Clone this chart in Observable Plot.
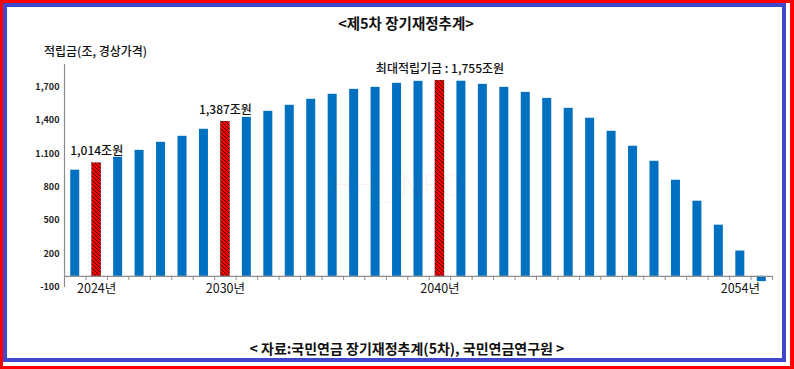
<!DOCTYPE html>
<html><head><meta charset="utf-8">
<script src="https://cdn.jsdelivr.net/npm/d3@7"></script>
<script src="https://cdn.jsdelivr.net/npm/@observablehq/plot@0.6"></script>
<style>
body{margin:0;background:#fff;}
#page{position:relative;width:794px;height:369px;overflow:hidden;font-family:"Noto Sans CJK KR","Noto Sans",sans-serif;}
#red{position:absolute;left:0;top:0;width:794px;height:369px;box-sizing:border-box;border:3px solid #ff0000;border-right-width:4px;}
#blue{position:absolute;left:3px;top:3px;width:783px;height:359px;box-sizing:border-box;border:4px solid #3f48cc;}
#chart{position:absolute;left:0;top:0;}
.t{position:absolute;white-space:nowrap;color:#111;}
#title{left:406px;top:22px;transform:translate(-50%,-50%);font-size:14.5px;font-weight:700;}
#ytitle{left:44px;top:50px;transform:translateY(-50%);font-size:12px;font-weight:500;}
#caption{left:407px;top:348px;transform:translate(-50%,-50%);font-size:14px;font-weight:700;}
#wm{left:397px;top:185px;transform:translate(-50%,-50%);font-size:30px;font-family:"DejaVu Sans",sans-serif;font-weight:300;color:rgba(255,0,0,0.07);}
</style></head>
<body>
<div id="page">
  <div id="red"></div><div id="blue"></div>
  <div id="chart"></div>
  <div class="t" id="wm">HH_INFO</div>
  <div class="t" id="title">&lt;제5차 장기재정추계&gt;</div>
  <div class="t" id="ytitle">적립금(조, 경상가격)</div>
  <div class="t" id="caption">&lt; 자료:국민연금 장기재정추계(5차), 국민연금연구원 &gt;</div>
</div>
<script>
const years = [2023,2024,2025,2026,2027,2028,2029,2030,2031,2032,2033,2034,2035,2036,2037,2038,2039,2040,2041,2042,2043,2044,2045,2046,2047,2048,2049,2050,2051,2052,2053,2054,2055];
const values = [952,1014,1068,1130,1202,1256,1319,1387,1426,1480,1534,1588,1633,1677,1695,1731,1749,1755,1750,1722,1695,1650,1596,1507,1418,1301,1167,1032,862,674,459,227,-47];
const highlightYears = [2024,2030,2040];
const annotationYears = [2024,2030,2040];
const annotationValues = [1014,1387,1755];
const annotationLabels = ["1,014조원","1,387조원","최대적립기금 : 1,755조원"];
const yTicks = [1700,1400,1100,800,500,200,-100];
const yTickLabels = ["1,700","1,400","1.100","800","500","200","-100"];
const xTicks = [2024,2030,2040,2054];

const W=794,H=369,ML=64,MR=22,MT=64,MB=82;
const step=(W-ML-MR)/years.length;
const barInset=(step-9)/2;
const data = years.map((year,i)=>({year,value:values[i],hl:highlightYears.includes(year)}));
const ann = annotationYears.map((year,i)=>({year,value:annotationValues[i],label:annotationLabels[i]}));
const grey="#8c8c8c";
const plot = Plot.plot({
  width:W,height:H,marginLeft:ML,marginRight:MR,marginTop:MT,marginBottom:MB,
  style:{background:"transparent",fontFamily:"'Noto Sans CJK KR','Noto Sans',sans-serif",overflow:"visible",color:"#111"},
  x:{type:"band",domain:years,padding:0,round:false,axis:null},
  y:{domain:[-100,1900],axis:null},
  marks:[
    Plot.barY(data.filter(d=>!d.hl),{x:"year",y:"value",fill:"#0070c0",insetLeft:barInset,insetRight:barInset}),
    Plot.barY(data.filter(d=>d.hl),{x:"year",y:"value",fill:"url(#hatch)",stroke:"#300",strokeWidth:0.4,insetLeft:barInset,insetRight:barInset}),
    Plot.ruleY([0],{stroke:grey,strokeWidth:1.3}),
    Plot.ruleX(years,{x:d=>d,y1:0,y2:-100,insetBottom:7,dx:-step/2,stroke:grey}),
    Plot.ruleX([years[years.length-1]],{x:d=>d,y1:0,y2:-100,insetBottom:7,dx:step/2,stroke:grey}),
    Plot.ruleX([years[0]],{x:d=>d,y1:-100,y2:1900,dx:-step/2,stroke:grey,strokeWidth:1.2}),
    Plot.axisY({ticks:yTicks,tickFormat:d=>yTickLabels[yTicks.indexOf(d)],tickSize:0,tickPadding:5,fontSize:9,fontWeight:"bold",fill:"#222",label:null}),
    Plot.axisX({ticks:xTicks,tickFormat:d=>d+"년",tickSize:0,tickPadding:-3,fontSize:12.5,fill:"#111",label:null}),
    Plot.text(ann,{x:"year",y:"value",text:"label",dy:-12,fontSize:12,fontWeight:500,fill:"#111"})
  ]
});
const ns="http://www.w3.org/2000/svg";
const defs=document.createElementNS(ns,"defs");
defs.innerHTML='<pattern id="hatch" patternUnits="userSpaceOnUse" width="4" height="4"><rect width="4" height="4" fill="#ff0000"/><path d="M-1,-1L5,5M-1,3L1,5M3,-1L5,1" stroke="#000" stroke-width="0.7"/></pattern>';
plot.prepend(defs);
document.getElementById("chart").appendChild(plot);
</script>
</body></html>
